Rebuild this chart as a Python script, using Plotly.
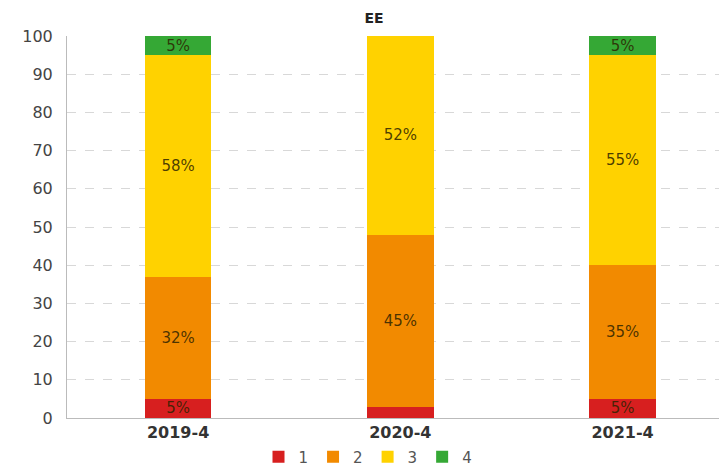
import plotly.graph_objects as go

categories = ["2019-4", "2020-4", "2021-4"]
series_names = ["1", "2", "3", "4"]
s1 = [5, 3, 5]
s2 = [32, 45, 35]
s3 = [58, 52, 55]
s4 = [5, 0, 5]
colors = ["#d71f1f", "#f28a00", "#ffd200", "#35a835"]

# the page body has an 8px margin; shrink the figure to compensate
OFF = 8
W, H = 727 - OFF, 468 - OFF

fig = go.Figure()
for name, vals, col in zip(series_names, [s1, s2, s3, s4], colors):
    fig.add_trace(go.Bar(
        x=categories, y=vals, name=name,
        marker=dict(color=col, line=dict(width=0)),
        text=[f"{v}%" if v >= 5 else "" for v in vals],
        textposition="inside", insidetextanchor="middle", textangle=0,
        constraintext="none",
        textfont=dict(family="DejaVu Sans", size=15, color="rgba(45,35,0,0.85)"),
        width=0.3, hoverinfo="skip",
    ))

fig.update_layout(
    barmode="stack",
    width=W, height=H,
    margin=dict(l=67 - OFF, r=0, t=36 - OFF, b=50, autoexpand=False),
    paper_bgcolor="white", plot_bgcolor="white",
    title=dict(text="<b>EE</b>", x=(374 - OFF) / W, xanchor="center",
               y=1 - (18 - OFF) / H, yanchor="middle",
               font=dict(family="DejaVu Sans", size=14, color="#222")),
    showlegend=True,
    legend=dict(orientation="h", x=(368 - 67) / (W - 67 + OFF), xanchor="center",
                y=-0.102, yanchor="middle",
                font=dict(family="DejaVu Sans", size=15, color="#555"),
                traceorder="normal", itemwidth=30),
)
fig.update_xaxes(
    type="category", range=[-0.5, 2.47], showgrid=False, showline=True,
    linecolor="#bbbbbb", linewidth=1, automargin=False,
    tickfont=dict(family="DejaVu Sans", size=16, color="#333"),
    tickprefix="<b>", ticksuffix="</b>", ticks="",
)
fig.update_yaxes(
    range=[0, 100], dtick=10, showgrid=True, gridcolor="#d8d8d8", griddash="dash", gridwidth=1,
    showline=True, linecolor="#bbbbbb", linewidth=1, zeroline=False, automargin=False,
    tickfont=dict(family="DejaVu Sans", size=16, color="#444"),
    ticks="", ticklabelstandoff=10,
)
fig.write_html("out.html")
